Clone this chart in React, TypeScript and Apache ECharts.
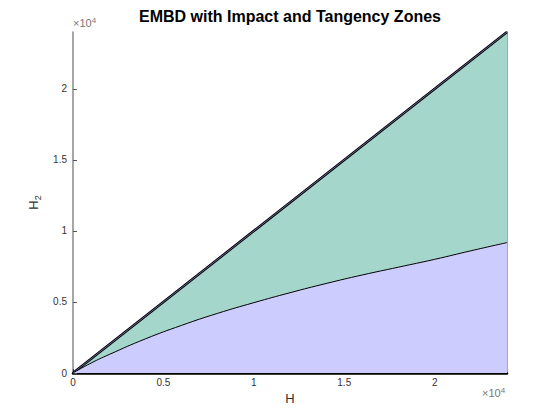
import React, { useEffect, useRef } from "react";
import * as echarts from "echarts";

// H values sampled along the boundary curve
const hValues = [0, 1000, 2000, 4000, 6000, 8000, 10000, 12000, 14000, 16000, 18000, 20000, 22000, 24000];
// H2 on the lower (impact zone) boundary
const impactBoundary = [0, 700, 1300, 2400, 3350, 4200, 4950, 5650, 6300, 6900, 7450, 8000, 8600, 9180];
// Upper boundary H2 = H end points
const tangencyH = [0, 24000];
const tangencyH2 = [0, 24000];

const axisMax = 24000;
const tickStep = 5000;
const tickLabels = ["0", "0.5", "1", "1.5", "2"];

const FONT = "Liberation Sans, Arial, Helvetica, sans-serif";

export default function App() {
  const ref = useRef<HTMLDivElement>(null);

  useEffect(() => {
    if (!ref.current) return;
    const chart = echarts.init(ref.current, undefined, { renderer: "svg" });

    const lower = hValues.map((h, i) => [h, impactBoundary[i]]);
    const upper = tangencyH.map((h, i) => [h, tangencyH2[i]]);
    const labelOf = (v: number) => {
      const idx = Math.round(v / tickStep);
      return Math.abs(idx * tickStep - v) < 1 && idx < tickLabels.length ? tickLabels[idx] : "";
    };
    const exponentText = (x: number, y: number) => ({
      type: "text",
      x,
      y,
      style: {
        text: "×10{p|4}",
        fontSize: 11,
        fill: "#777",
        fontFamily: FONT,
        rich: { p: { fontSize: 8, verticalAlign: "top", fill: "#777", padding: [0, 0, 5, 0] } },
      },
    });

    chart.setOption({
      animation: false,
      textStyle: { fontFamily: FONT },
      grid: { left: 73, right: 53, top: 32, bottom: 47 },
      xAxis: {
        type: "value",
        min: 0,
        max: axisMax,
        interval: tickStep,
        name: "H",
        nameLocation: "middle",
        nameGap: 13,
        nameTextStyle: { fontSize: 13, color: "#333", fontFamily: FONT },
        axisLine: { show: true, lineStyle: { color: "#000", width: 2.5 } },
        axisTick: { show: true, inside: true, length: 4, lineStyle: { color: "#333" } },
        axisLabel: {
          showMaxLabel: false,
          margin: 4,
          fontSize: 10,
          color: "#333",
          fontFamily: FONT,
          formatter: (v: number) => labelOf(v),
        },
        splitLine: { show: false },
      },
      yAxis: [
        {
          type: "value",
          min: 0,
          max: axisMax,
          interval: tickStep,
          name: "H{s|2}",
          nameLocation: "middle",
          nameGap: 28,
          nameRotate: 90,
          nameTextStyle: {
            fontSize: 13,
            color: "#333",
            fontFamily: FONT,
            rich: { s: { fontSize: 9, verticalAlign: "bottom", padding: [8, 0, 0, 0], color: "#333" } },
          },
          axisLine: { show: true, lineStyle: { color: "#888", width: 1.5 } },
          axisTick: { show: true, inside: true, length: 4, lineStyle: { color: "#555" } },
          axisLabel: {
            showMaxLabel: false,
            margin: 6,
            fontSize: 10,
            color: "#333",
            fontFamily: FONT,
            formatter: (v: number) => labelOf(v),
          },
          splitLine: { show: false },
        },
        {
          type: "value",
          position: "right",
          min: 0,
          max: axisMax,
          axisLine: { show: true, lineStyle: { color: "#888", width: 1.5 } },
          axisTick: { show: false },
          axisLabel: { show: false },
          splitLine: { show: false },
        },
      ],
      series: [
        {
          name: "Tangency zone",
          type: "line",
          data: upper,
          symbol: "none",
          z: 2,
          lineStyle: { color: "#000", width: 2.5 },
          areaStyle: { color: "#a4d6cb", opacity: 1 },
        },
        {
          name: "Tangency edge",
          type: "line",
          data: upper,
          symbol: "none",
          z: 3,
          lineStyle: { color: "#7a7ab8", width: 0.8 },
        },
        {
          name: "Impact zone",
          type: "line",
          data: lower,
          symbol: "none",
          smooth: true,
          z: 4,
          lineStyle: { color: "#000", width: 1 },
          areaStyle: { color: "#ccccff", opacity: 1 },
        },
      ],
      graphic: [
        {
          type: "text",
          x: 290,
          y: 8,
          style: {
            text: "EMBD with Impact and Tangency Zones",
            fill: "#000",
            font: `bold 16px ${FONT}`,
            textAlign: "center",
          },
        },
        exponentText(73, 16),
        exponentText(482, 386),
      ],
    });

    return () => chart.dispose();
  }, []);

  return <div ref={ref} style={{ width: 560, height: 420, position: "absolute", left: 0, top: 0 }} />;
}
